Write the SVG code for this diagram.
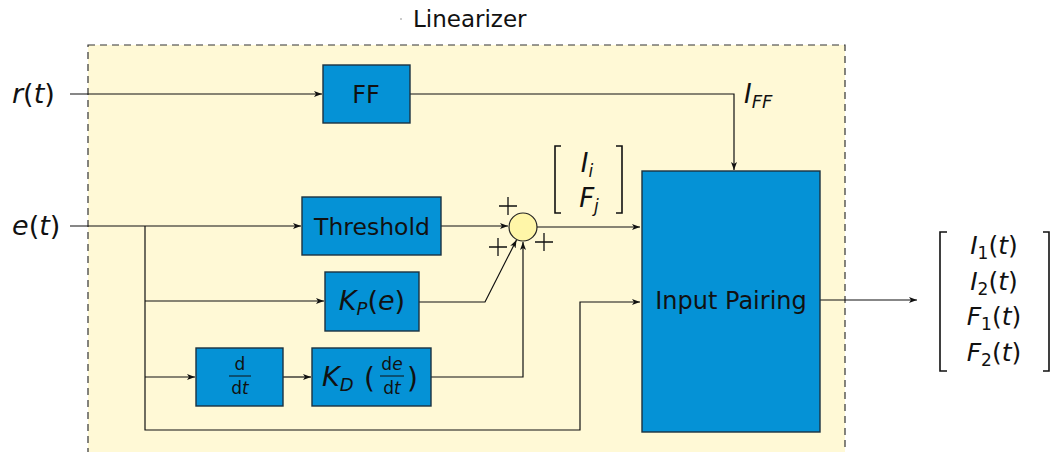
<svg xmlns="http://www.w3.org/2000/svg" width="1051" height="452" viewBox="0 0 1051 452">
<style>
.blk{fill:#0592d6;stroke:#1c3240;stroke-width:1.4}
.ln{fill:none;stroke:#111;stroke-width:1.2}
.br{fill:none;stroke:#111;stroke-width:1.6}
.t{font-family:"DejaVu Sans","Liberation Sans",sans-serif;fill:#111}
.i{font-style:italic}
.c{text-anchor:middle}
</style>
<defs>
<marker id="ar" markerWidth="10" markerHeight="8" refX="8" refY="3" orient="auto" markerUnits="userSpaceOnUse">
<path d="M0,0 L8,3 L0,6 L2,3 z" fill="#111"/>
</marker>
</defs>
<rect width="1051" height="452" fill="#fff"/>
<g id="linearizer">
<rect x="88" y="45" width="757" height="420" fill="#fff9d6" stroke="#333" stroke-width="1.2" stroke-dasharray="7,5"/>
<circle cx="401" cy="19" r="0.8" fill="#888"/>
<text class="t" x="413" y="27" font-size="23">Linearizer</text>
</g>
<g id="connectors" class="ln">
<path d="M70,94 H322" marker-end="url(#ar)"/>
<path d="M410,94 H734 V170" marker-end="url(#ar)"/>
<path d="M70,226 H301" marker-end="url(#ar)"/>
<path d="M441,226 H508" marker-end="url(#ar)"/>
<path d="M537,227 H640" marker-end="url(#ar)"/>
<path d="M145,226 V430 H580 V302 H640" marker-end="url(#ar)"/>
<path d="M145,301 H324" marker-end="url(#ar)"/>
<path d="M419,302 H485 L516.5,240" marker-end="url(#ar)"/>
<path d="M145,377 H195" marker-end="url(#ar)"/>
<path d="M283,377 H311" marker-end="url(#ar)"/>
<path d="M431,377 H523 V242" marker-end="url(#ar)"/>
<path d="M820,300 H917" marker-end="url(#ar)"/>
</g>
<g id="r-input"><text class="t" x="12" y="103" font-size="27"><tspan class="i">r</tspan>(<tspan class="i">t</tspan>)</text></g>
<g id="e-input"><text class="t" x="12" y="235" font-size="27"><tspan class="i">e</tspan>(<tspan class="i">t</tspan>)</text></g>
<g id="ff">
<rect class="blk" x="323" y="65" width="87" height="58"/>
<text class="t c" x="366" y="103" font-size="24">FF</text>
</g>
<g id="iff-label"><text class="t i" x="744" y="103" font-size="26">I<tspan font-size="18" dy="5">FF</tspan></text></g>
<g id="threshold">
<rect class="blk" x="302" y="197" width="139" height="58"/>
<text class="t c" x="372" y="235" font-size="23.5">Threshold</text>
</g>
<g id="sum">
<circle cx="523" cy="227" r="14" fill="#fff6a8" stroke="#222" stroke-width="1.2"/>
<path d="M499,206 H517 M508,197 V215 M489,247 H507 M498,238 V256 M535,242 H553 M544,233 V251" stroke="#111" stroke-width="1.3"/>
</g>
<g id="ij-label">
<path class="br" d="M561,146 H555 V213 H561 M616,146 H622 V213 H616"/>
<text class="t i c" x="587" y="172" font-size="26">I<tspan font-size="17" dy="5">i</tspan></text>
<text class="t i c" x="589" y="207" font-size="26">F<tspan font-size="17" dy="5">j</tspan></text>
</g>
<g id="kp">
<rect class="blk" x="325" y="272" width="94" height="59"/>
<text class="t c" x="372" y="310" font-size="27"><tspan class="i">K</tspan><tspan class="i" font-size="18" dy="5">P</tspan><tspan dy="-5">(</tspan><tspan class="i">e</tspan>)</text>
</g>
<g id="ddt">
<rect class="blk" x="196" y="348" width="87" height="58"/>
<text class="t c" x="240" y="370" font-size="17">d</text>
<line x1="229" y1="376" x2="251" y2="376" stroke="#111" stroke-width="1"/>
<text class="t c" x="240" y="394" font-size="17">d<tspan class="i">t</tspan></text>
</g>
<g id="kd">
<rect class="blk" x="312" y="348" width="119" height="58"/>
<text class="t" x="322" y="386" font-size="27"><tspan class="i">K</tspan><tspan class="i" font-size="18" dy="5">D</tspan></text>
<text class="t" x="364" y="388" font-size="28">(</text>
<text class="t c" x="392" y="370" font-size="17">d<tspan class="i">e</tspan></text>
<line x1="380" y1="376" x2="404" y2="376" stroke="#111" stroke-width="1"/>
<text class="t c" x="392" y="394" font-size="17">d<tspan class="i">t</tspan></text>
<text class="t" x="407" y="388" font-size="28">)</text>
</g>
<g id="input-pairing">
<rect class="blk" x="642" y="171" width="178" height="261"/>
<text class="t c" x="731" y="309" font-size="24">Input Pairing</text>
</g>
<g id="output">
<path class="br" d="M947,232 H940 V371 H947 M1043,232 H1049 V371 H1043"/>
<text class="t c" x="994" y="254" font-size="25"><tspan class="i">I</tspan><tspan font-size="17" dy="5">1</tspan><tspan dy="-5">(</tspan><tspan class="i">t</tspan>)</text>
<text class="t c" x="994" y="290" font-size="25"><tspan class="i">I</tspan><tspan font-size="17" dy="5">2</tspan><tspan dy="-5">(</tspan><tspan class="i">t</tspan>)</text>
<text class="t c" x="994" y="325" font-size="25"><tspan class="i">F</tspan><tspan font-size="17" dy="5">1</tspan><tspan dy="-5">(</tspan><tspan class="i">t</tspan>)</text>
<text class="t c" x="994" y="361" font-size="25"><tspan class="i">F</tspan><tspan font-size="17" dy="5">2</tspan><tspan dy="-5">(</tspan><tspan class="i">t</tspan>)</text>
</g>
</svg>
